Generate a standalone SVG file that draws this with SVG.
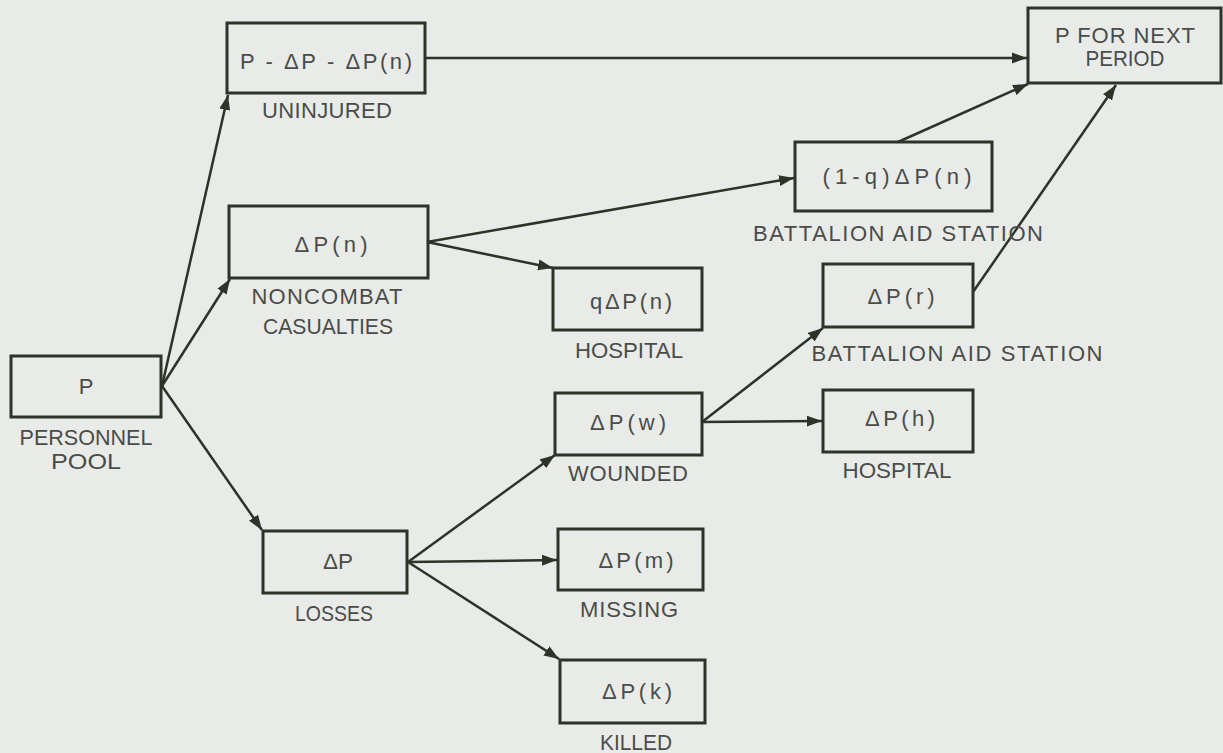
<svg xmlns="http://www.w3.org/2000/svg" width="1223" height="753" viewBox="0 0 1223 753">
<style>
.bg{fill:#e9ebe8}
.box{fill:none;stroke:#2c3328;stroke-width:3}
.t{font-family:"Liberation Sans",Arial,sans-serif;font-size:22px;fill:#4a4c48;text-anchor:middle}
.c line{stroke:#2c3328;stroke-width:2.5;marker-end:url(#ah)}
</style>
<defs>
<marker id="ah" markerUnits="userSpaceOnUse" markerWidth="16" markerHeight="12" refX="15" refY="6" orient="auto">
<path d="M0,0.5 L15,6 L0,11.5 z" fill="#2c3328"/>
</marker>
</defs>
<rect class="bg" x="0" y="0" width="1223" height="753"/>
<g class="c" id="connectors">
<line x1="162" y1="386" x2="228" y2="95"/>
<line x1="162" y1="386" x2="230" y2="279"/>
<line x1="162" y1="386" x2="262" y2="530"/>
<line x1="425" y1="58" x2="1027" y2="58"/>
<line x1="427" y1="242" x2="794" y2="178"/>
<line x1="427" y1="242" x2="553" y2="268"/>
<line x1="898" y1="142" x2="1028" y2="84"/>
<line x1="973" y1="292" x2="1116" y2="85"/>
<line x1="702" y1="422" x2="823" y2="328"/>
<line x1="702" y1="422" x2="822" y2="421"/>
<line x1="408" y1="562" x2="555" y2="455"/>
<line x1="408" y1="562" x2="557" y2="560"/>
<line x1="408" y1="562" x2="559" y2="659"/>
</g>
<g id="pool">
<rect class="box" x="11" y="356" width="150" height="61"/>
<text class="t" x="86" y="394">P</text>
<text class="t" x="86" y="445" textLength="133" lengthAdjust="spacingAndGlyphs">PERSONNEL</text>
<text class="t" x="86" y="469" textLength="70" lengthAdjust="spacingAndGlyphs">POOL</text>
</g>
<g id="uninjured">
<rect class="box" x="227" y="23" width="198" height="70"/>
<text class="t" x="326" y="69" textLength="172" lengthAdjust="spacing">P - ΔP - ΔP(n)</text>
<text class="t" x="327" y="118" textLength="130" lengthAdjust="spacing">UNINJURED</text>
</g>
<g id="next">
<rect class="box" x="1028" y="8" width="193" height="75"/>
<text class="t" x="1125" y="43" textLength="140" lengthAdjust="spacing">P FOR NEXT</text>
<text class="t" x="1125" y="66" textLength="79" lengthAdjust="spacingAndGlyphs">PERIOD</text>
</g>
<g id="noncombat">
<rect class="box" x="229" y="206" width="199" height="72"/>
<text class="t" x="331" y="252" textLength="73" lengthAdjust="spacing">ΔP(n)</text>
<text class="t" x="327" y="304" textLength="151" lengthAdjust="spacing">NONCOMBAT</text>
<text class="t" x="328" y="334" textLength="130" lengthAdjust="spacingAndGlyphs">CASUALTIES</text>
</g>
<g id="bas1">
<rect class="box" x="795" y="142" width="197" height="69"/>
<text class="t" x="897" y="184" textLength="149" lengthAdjust="spacing">(1-q)ΔP(n)</text>
<text class="t" x="898" y="241" textLength="290" lengthAdjust="spacing">BATTALION AID STATION</text>
</g>
<g id="hosp1">
<rect class="box" x="553" y="268" width="149" height="62"/>
<text class="t" x="631" y="309" textLength="82" lengthAdjust="spacing">qΔP(n)</text>
<text class="t" x="629" y="358" textLength="108" lengthAdjust="spacingAndGlyphs">HOSPITAL</text>
</g>
<g id="bas2">
<rect class="box" x="823" y="264" width="150" height="63"/>
<text class="t" x="901" y="304" textLength="67" lengthAdjust="spacing">ΔP(r)</text>
<text class="t" x="957" y="361" textLength="291" lengthAdjust="spacing">BATTALION AID STATION</text>
</g>
<g id="wounded">
<rect class="box" x="555" y="393" width="147" height="62"/>
<text class="t" x="628" y="430" textLength="76" lengthAdjust="spacing">ΔP(w)</text>
<text class="t" x="628" y="481" textLength="120" lengthAdjust="spacing">WOUNDED</text>
</g>
<g id="hosp2">
<rect class="box" x="823" y="390" width="150" height="62"/>
<text class="t" x="900" y="426" textLength="70" lengthAdjust="spacing">ΔP(h)</text>
<text class="t" x="897" y="478" textLength="109" lengthAdjust="spacingAndGlyphs">HOSPITAL</text>
</g>
<g id="losses">
<rect class="box" x="263" y="531" width="144" height="62"/>
<text class="t" x="338" y="569" textLength="30" lengthAdjust="spacingAndGlyphs">ΔP</text>
<text class="t" x="334" y="621" textLength="78" lengthAdjust="spacingAndGlyphs">LOSSES</text>
</g>
<g id="missing">
<rect class="box" x="558" y="529" width="145" height="61"/>
<text class="t" x="636" y="568" textLength="75" lengthAdjust="spacing">ΔP(m)</text>
<text class="t" x="629" y="617" textLength="98" lengthAdjust="spacing">MISSING</text>
</g>
<g id="killed">
<rect class="box" x="560" y="660" width="145" height="63"/>
<text class="t" x="637" y="699" textLength="70" lengthAdjust="spacing">ΔP(k)</text>
<text class="t" x="636" y="750" textLength="72" lengthAdjust="spacingAndGlyphs">KILLED</text>
</g>
</svg>
